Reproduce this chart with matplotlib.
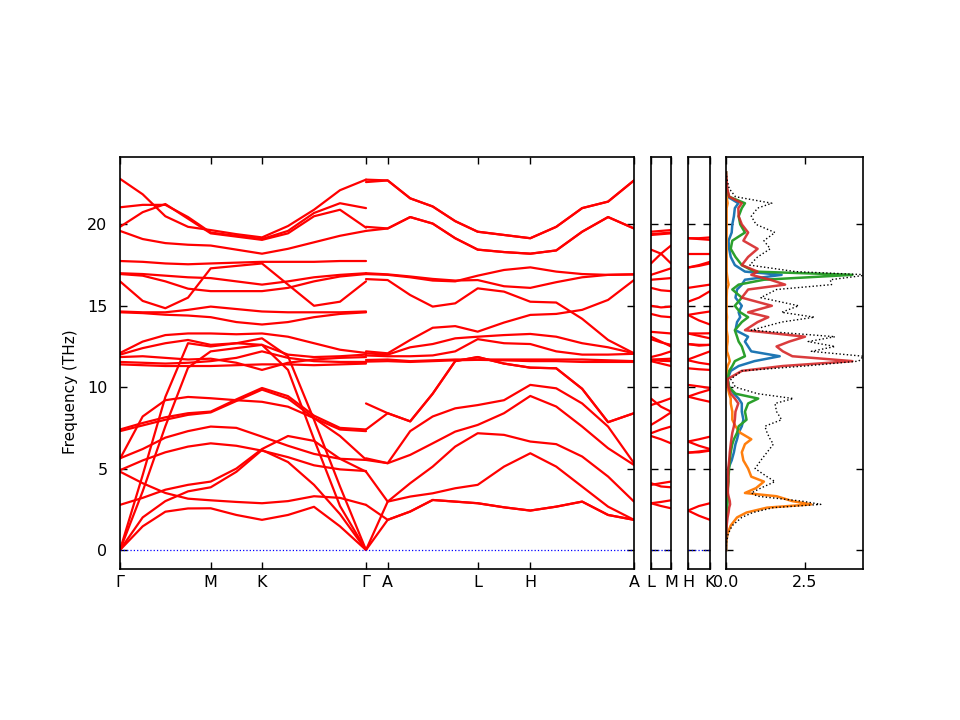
import numpy as np
import matplotlib
matplotlib.use("Agg")
import matplotlib.pyplot as plt

# ---------------- path description ----------------
seg_left = [0.907, 0.513, 1.04]          # Γ-M, M-K, K-Γ
npts_left = [5, 3, 5]
seg_right = [0.217, 0.900, 0.526, 1.037]  # Γ-A, A-L, L-H, H-A
npts_right = [2, 5, 3, 5]
main_labels = ["Γ", "M", "K", "Γ", "A", "L", "H", "A"]
lm_len = 0.20
hk_len = 0.22
lm_labels = ["L", "M"]
hk_labels = ["H", "K"]

# ---------------- band frequencies (THz) ----------------
# left path Γ-M-K-Γ : 11 samples each
left_bands = [
    [22.8, 21.85, 20.5, 19.85, 19.65, 19.4, 19.2, 19.9, 20.9, 22.1, 22.75],
    [21.05, 21.2, 21.2, 20.45, 19.5, 19.3, 19.1, 19.6, 20.7, 21.3, 21.0],
    [19.85, 20.75, 21.25, 20.35, 19.45, 19.25, 19.05, 19.45, 20.5, 20.9, 19.8],
    [19.6, 19.1, 18.85, 18.75, 18.7, 18.45, 18.2, 18.5, 18.9, 19.3, 19.6],
    [17.75, 17.7, 17.6, 17.55, 17.6, 17.65, 17.7, 17.7, 17.7, 17.75, 17.75],
    [17.0, 16.95, 16.85, 16.75, 16.7, 16.5, 16.3, 16.5, 16.75, 16.9, 17.0],
    [16.95, 16.85, 16.5, 16.05, 15.9, 15.9, 15.9, 16.1, 16.5, 16.8, 16.95],
    [16.5, 15.3, 14.85, 15.5, 17.3, 17.45, 17.6, 16.3, 15.0, 15.25, 16.5],
    [14.65, 14.6, 14.6, 14.75, 14.95, 14.8, 14.65, 14.6, 14.6, 14.6, 14.65],
    [14.6, 14.55, 14.45, 14.4, 14.3, 14.0, 13.85, 14.0, 14.3, 14.5, 14.6],
    [12.1, 12.8, 13.2, 13.3, 13.3, 13.25, 13.3, 13.1, 12.7, 12.3, 12.1],
    [12.0, 12.4, 12.7, 12.9, 12.6, 12.7, 12.6, 12.0, 11.85, 11.9, 12.0],
    [11.85, 11.9, 11.8, 11.7, 11.75, 11.5, 11.06, 11.5, 11.7, 11.8, 11.85],
    [11.55, 11.5, 11.45, 11.5, 11.6, 11.8, 12.2, 11.8, 11.6, 11.55, 11.55],
    [11.4, 11.35, 11.3, 11.3, 11.3, 11.35, 11.4, 11.4, 11.35, 11.4, 11.45],
    [0.0, 4.6, 9.4, 12.7, 12.5, 12.7, 13.0, 11.9, 8.0, 3.9, 0.0],
    [0.0, 3.6, 7.6, 11.2, 12.2, 12.4, 12.6, 11.06, 6.8, 2.7, 0.0],
    [7.4, 7.8, 8.15, 8.4, 8.5, 9.25, 9.95, 9.45, 8.25, 7.5, 7.4],
    [7.3, 7.65, 8.0, 8.3, 8.45, 9.15, 9.85, 9.3, 8.1, 7.4, 7.3],
    [5.6, 8.2, 9.2, 9.4, 9.32, 9.2, 9.1, 8.8, 8.1, 7.0, 5.55],
    [5.63, 6.2, 6.9, 7.3, 7.58, 7.5, 6.96, 6.4, 5.9, 5.6, 5.53],
    [4.9, 5.5, 6.0, 6.35, 6.55, 6.4, 6.1, 5.7, 5.2, 4.95, 4.85],
    [2.77, 3.2, 3.7, 4.0, 4.2, 5.0, 6.2, 7.0, 6.7, 5.6, 4.81],
    [4.81, 4.1, 3.5, 3.15, 3.05, 2.95, 2.87, 3.0, 3.3, 3.2, 2.77],
    [0.0, 2.0, 3.0, 3.6, 3.85, 4.8, 6.14, 5.4, 4.0, 2.2, 0.0],
    [0.0, 1.45, 2.35, 2.55, 2.56, 2.15, 1.85, 2.15, 2.65, 1.45, 0.0],
]

# right path Γ-A-L-H-A : 12 samples each
right_bands = [
    [22.75, 22.7, 21.6, 21.1, 20.2, 19.55, 19.35, 19.15, 19.85, 21.0, 21.4, 22.7],
    [22.6, 22.7, 21.6, 21.1, 20.2, 19.55, 19.35, 19.15, 19.85, 21.0, 21.4, 22.7],
    [19.85, 19.75, 20.45, 20.05, 19.15, 18.45, 18.3, 18.2, 18.4, 19.55, 20.45, 19.75],
    [19.6, 19.75, 20.45, 20.05, 19.15, 18.45, 18.3, 18.2, 18.4, 19.55, 20.45, 19.75],
    [17.0, 16.93, 16.8, 16.65, 16.55, 16.58, 16.2, 16.1, 16.45, 16.75, 16.9, 16.93],
    [16.95, 16.9, 16.75, 16.55, 16.5, 16.85, 17.2, 17.36, 17.1, 16.95, 16.9, 16.93],
    [16.64, 16.58, 15.66, 14.95, 15.15, 16.07, 15.87, 15.25, 15.2, 14.2, 12.9, 12.08],
    [12.2, 12.08, 12.9, 13.65, 13.75, 13.41, 13.97, 14.44, 14.5, 14.75, 15.36, 16.58],
    [12.08, 12.0, 12.45, 12.65, 13.0, 13.1, 13.2, 13.27, 13.1, 12.7, 12.45, 12.08],
    [11.95, 11.9, 11.9, 11.95, 12.2, 12.95, 12.7, 12.65, 12.2, 12.0, 12.0, 12.05],
    [11.67, 11.7, 11.6, 11.65, 11.7, 11.7, 11.7, 11.7, 11.7, 11.7, 11.65, 11.6],
    [11.57, 11.6, 11.55, 11.6, 11.65, 11.68, 11.65, 11.6, 11.6, 11.55, 11.55, 11.55],
    [9.0, 8.4, 7.9, 9.6, 11.6, 11.85, 11.45, 11.2, 11.16, 9.9, 7.85, 8.4],
    [7.4, 8.4, 7.9, 9.6, 11.6, 11.85, 11.45, 11.2, 11.16, 9.9, 7.85, 8.4],
    [5.63, 5.33, 7.3, 8.2, 8.7, 8.9, 9.2, 10.14, 9.93, 9.0, 7.58, 5.33],
    [5.53, 5.33, 5.84, 6.55, 7.27, 7.68, 8.4, 9.46, 8.81, 7.58, 6.25, 5.22],
    [0.0, 2.97, 4.1, 5.12, 6.35, 7.17, 7.07, 6.66, 6.5, 5.74, 4.51, 2.97],
    [4.81, 2.97, 3.28, 3.48, 3.79, 4.0, 5.12, 5.94, 5.12, 3.89, 2.66, 1.85],
    [0.0, 1.85, 2.36, 3.07, 2.97, 2.87, 2.62, 2.42, 2.66, 2.97, 2.15, 1.85],
    [2.77, 1.85, 2.36, 3.07, 2.97, 2.87, 2.62, 2.42, 2.66, 2.97, 2.15, 1.85],
]

# L-M panel : 3 samples each
lm_bands = [
    [19.55, 19.6, 19.65], [19.4, 19.45, 19.5], [19.35, 19.4, 19.45],
    [18.45, 18.2, 17.6], [17.6, 18.2, 18.7], [16.9, 17.1, 17.3],
    [16.6, 16.65, 16.7], [16.1, 15.95, 15.9], [15.0, 14.9, 14.95],
    [14.5, 14.35, 14.3], [13.4, 13.35, 13.3], [13.1, 12.8, 12.5],
    [12.95, 12.75, 12.6], [11.85, 12.0, 12.2], [11.7, 11.72, 11.75],
    [11.68, 11.62, 11.6], [11.6, 11.45, 11.3], [8.9, 9.1, 9.32],
    [9.3, 8.8, 8.5], [7.68, 8.05, 8.45], [7.17, 7.4, 7.58],
    [7.0, 6.8, 6.55], [4.0, 4.1, 4.2], [4.1, 3.9, 3.85],
    [2.87, 2.95, 3.05], [2.87, 2.7, 2.56],
]

# H-K panel : 3 samples each
hk_bands = [
    [19.15, 19.15, 19.2], [19.15, 19.1, 19.05], [18.2, 18.2, 18.2],
    [17.35, 17.5, 17.7], [17.35, 17.45, 17.6], [16.1, 16.2, 16.3],
    [15.25, 15.5, 15.9], [14.44, 14.55, 14.65], [14.44, 14.1, 13.85],
    [13.3, 13.3, 13.31], [13.3, 13.15, 13.0], [12.65, 12.6, 12.6],
    [12.65, 12.55, 12.6], [11.7, 11.95, 12.2], [11.65, 11.5, 11.4],
    [11.16, 11.1, 11.06], [10.14, 10.05, 9.95], [9.42, 9.65, 9.85],
    [9.42, 9.25, 9.1], [6.66, 6.8, 6.96], [6.66, 6.4, 6.2],
    [5.98, 6.05, 6.14], [5.98, 6.0, 6.1], [2.42, 2.7, 2.87],
    [2.42, 2.1, 1.85],
]

# ---------------- DOS ----------------
dos_freq = [0, 0.5, 1.0, 1.5, 2.0, 2.3, 2.6, 2.8, 3.0, 3.3,
            3.5, 3.8, 4.2, 4.5, 5.0, 5.5, 6.0, 6.5, 6.8, 7.2,
            7.6, 8.0, 8.5, 9.0, 9.3, 9.6, 10.0, 10.5, 11.0, 11.3,
            11.6, 11.9, 12.2, 12.5, 12.8, 13.1, 13.5, 14.0, 14.3, 14.6,
            15.0, 15.5, 16.0, 16.3, 16.6, 16.9, 17.1, 17.5, 18.0, 18.5,
            19.0, 19.5, 20.0, 20.5, 21.0, 21.3, 21.7, 22.2, 22.7, 23.2]
dos_total = [0, 0.02, 0.07, 0.2, 0.5, 0.85, 1.5, 3.0, 2.4, 1.0,
             0.8, 1.1, 1.55, 1.3, 0.92, 1.1, 1.3, 1.5, 1.4, 1.3,
             1.23, 1.76, 1.6, 1.55, 2.13, 1.0, 0.3, 0.15, 0.5, 2.5,
             4.2, 4.35, 2.7, 3.45, 2.6, 3.45, 0.8, 1.76, 2.8, 1.76,
             2.3, 1.1, 1.6, 3.34, 3.3, 4.5, 2.2, 0.75, 1.0, 1.4,
             1.2, 1.55, 0.95, 0.8, 1.0, 1.45, 0.3, 0.1, 0.04, 0.0]
dos_p1 = [0, 0, 0.01, 0.01, 0.02, 0.02, 0.03, 0.03, 0.03, 0.03,
          0.03, 0.04, 0.04, 0.05, 0.07, 0.18, 0.25, 0.3, 0.35, 0.4,
          0.5, 0.55, 0.5, 0.5, 0.4, 0.25, 0.1, 0.05, 0.15, 0.4,
          0.9, 1.7, 0.8, 0.7, 0.6, 0.7, 0.3, 0.35, 0.45, 0.4,
          0.5, 0.3, 0.35, 0.5, 0.6, 1.76, 0.6, 0.28, 0.15, 0.1,
          0.08, 0.18, 0.2, 0.25, 0.28, 0.39, 0.05, 0.01, 0.0, 0.0]
dos_p2 = [0, 0.01, 0.05, 0.15, 0.35, 0.65, 1.3, 2.7, 2.1, 1.6,
          0.6, 0.95, 1.2, 0.8, 0.7, 0.55, 0.5, 0.6, 0.8, 0.45,
          0.3, 0.2, 0.2, 0.15, 0.15, 0.1, 0.05, 0.02, 0.02, 0.05,
          0.12, 0.08, 0.03, 0.03, 0.05, 0.05, 0.02, 0.02, 0.03, 0.02,
          0.02, 0.02, 0.03, 0.08, 0.05, 0.03, 0.02, 0.02, 0.02, 0.02,
          0.02, 0.02, 0.02, 0.02, 0.02, 0.05, 0.02, 0.0, 0.0, 0.0]
dos_p3 = [0, 0, 0.01, 0.01, 0.02, 0.02, 0.03, 0.04, 0.05, 0.05,
          0.05, 0.06, 0.08, 0.08, 0.1, 0.12, 0.15, 0.2, 0.25, 0.35,
          0.4, 0.65, 0.6, 0.7, 1.02, 0.3, 0.1, 0.05, 0.1, 0.2,
          0.28, 0.6, 0.55, 0.5, 0.4, 0.35, 0.28, 0.5, 0.7, 0.45,
          0.28, 0.5, 0.2, 0.4, 1.2, 4.0, 0.9, 0.5, 0.3, 0.15,
          0.2, 0.6, 0.45, 0.4, 0.5, 0.6, 0.1, 0.02, 0.0, 0.0]
dos_p4 = [0, 0, 0.01, 0.02, 0.05, 0.08, 0.1, 0.13, 0.12, 0.08,
          0.06, 0.06, 0.07, 0.07, 0.07, 0.1, 0.12, 0.15, 0.17, 0.2,
          0.25, 0.28, 0.3, 0.39, 0.28, 0.15, 0.08, 0.05, 0.5, 1.8,
          4.0, 2.1, 1.8, 1.6, 2.0, 2.5, 0.6, 1.0, 1.34, 0.7,
          1.45, 0.5, 0.7, 1.87, 1.4, 0.8, 1.0, 0.5, 0.7, 1.0,
          0.55, 0.7, 0.5, 0.4, 0.39, 0.5, 0.1, 0.04, 0.02, 0.0]
dos_ticks = [0.0, 2.5]
freq_ticks = [0, 5, 10, 15, 20]


def path_x(lengths, npts, start=0.0):
    xs = [start]
    pos = start
    for L, n in zip(lengths, npts):
        pts = np.linspace(pos, pos + L, n)
        xs.extend(pts[1:])
        pos += L
    return np.array(xs)


x_left = path_x(seg_left, npts_left)
x_right = path_x(seg_right, npts_right, start=x_left[-1])
tick_pos = list(np.cumsum([0] + seg_left)) + list(np.cumsum(seg_right) + x_left[-1])

FS = 11.5
ylim = (-1.17, 24.14)
fig = plt.figure(figsize=(9.6, 7.2), dpi=100)
b, h = 1 - 569 / 720, 412 / 720
ax1 = fig.add_axes([120 / 960, b, 514 / 960, h])
ax2 = fig.add_axes([651 / 960, b, 20 / 960, h])
ax3 = fig.add_axes([688 / 960, b, 22 / 960, h])
ax4 = fig.add_axes([726 / 960, b, 137 / 960, h])

bandkw = dict(color="r", lw=1.6, solid_joinstyle="round", solid_capstyle="round")
for band in left_bands:
    ax1.plot(x_left, band, **bandkw)
for band in right_bands:
    ax1.plot(x_right, band, **bandkw)
x_lm = np.linspace(0, lm_len, 3)
for band in lm_bands:
    ax2.plot(x_lm, band, **bandkw)
x_hk = np.linspace(0, hk_len, 3)
for band in hk_bands:
    ax3.plot(x_hk, band, **bandkw)

for ax in (ax1, ax2, ax3):
    ax.axhline(0, color="b", ls=":", lw=0.9)

ax1.set_xlim(0, tick_pos[-1])
ax1.set_xticks(tick_pos)
ax1.set_xticklabels(main_labels)
ax2.set_xlim(0, lm_len)
ax2.set_xticks([0, lm_len])
ax2.set_xticklabels(lm_labels)
ax3.set_xlim(0, hk_len)
ax3.set_xticks([0, hk_len])
ax3.set_xticklabels(hk_labels)

ax4.plot(dos_p1, dos_freq, color="C0", lw=1.8)
ax4.plot(dos_p2, dos_freq, color="C1", lw=1.8)
ax4.plot(dos_p3, dos_freq, color="C2", lw=1.8)
ax4.plot(dos_p4, dos_freq, color="C3", lw=1.8, alpha=0.9)
ax4.plot(dos_total, dos_freq, color="k", ls=":", lw=1.0)
ax4.set_xlim(0, 137 / 31.6)
ax4.set_xticks(dos_ticks)
ax4.set_xticklabels(["%.1f" % t for t in dos_ticks])

for ax in (ax1, ax2, ax3, ax4):
    ax.set_ylim(*ylim)
    ax.set_yticks(freq_ticks)
    ax.tick_params(direction="in", top=True, right=True, length=5, width=1.0,
                   labelsize=FS)
    ax.tick_params(axis="x", pad=4.5)
    ax.tick_params(axis="y", pad=9)
    for s in ax.spines.values():
        s.set_linewidth(1.2)
for ax in (ax2, ax3, ax4):
    ax.tick_params(labelleft=False)

ax1.set_ylabel("Frequency (THz)", fontsize=11)
ax1.yaxis.set_label_coords(-0.082, 0.43)

fig.savefig("out.png", dpi=100)
